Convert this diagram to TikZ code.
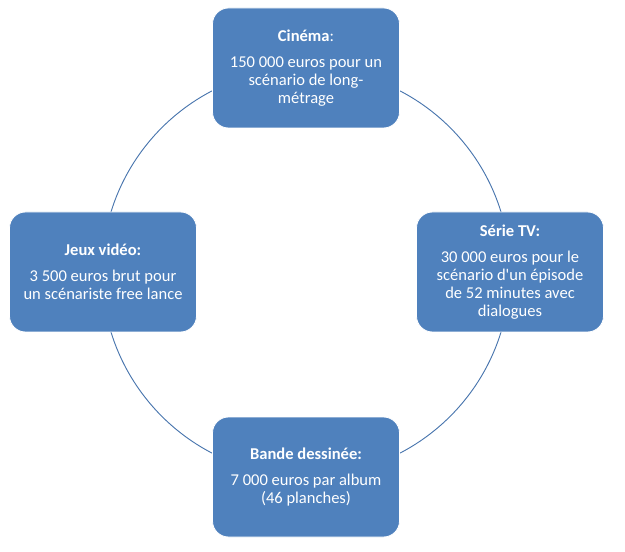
\documentclass[tikz,border=0pt]{standalone}
\usepackage{fontspec}
\setmainfont{Carlito}[Ligatures=TeXOff]
\definecolor{boxblue}{HTML}{4F81BD}
\definecolor{ringblue}{HTML}{4A76AE}

\begin{document}
\begin{tikzpicture}[x=0.75pt,y=-0.75pt,
    salary/.style={draw=white, line width=0.6pt, fill=boxblue, rounded corners=12pt,
        minimum width=140.25pt, minimum height=90pt, align=center,
        text=white, font=\fontsize{12.4pt}{13.6pt}\selectfont, inner sep=0pt},
    ring/.style={draw=ringblue, line width=0.7pt}]
    \useasboundingbox (0,0) rectangle (625,552);
    \coordinate (centre) at (306,272);
    \draw[ring] (centre) circle (153pt);
    \node[salary] (cinema) at (306,68) {\textbf{Cinéma}:\\[6pt]150 000 euros pour un\\scénario de long-\\métrage};
    \node[salary] (serie) at (510,272) {\textbf{Série TV:}\\[6pt]30 000 euros pour le\\scénario d'un épisode\\de 52 minutes avec\\dialogues};
    \node[salary] (bd) at (306,477) {\textbf{Bande dessinée:}\\[6pt]7 000 euros par album\\(46 planches)};
    \node[salary] (jeux) at (103,272) {\textbf{Jeux vidéo:}\\[6pt]3 500 euros brut pour\\un scénariste free lance};
\end{tikzpicture}
\end{document}
